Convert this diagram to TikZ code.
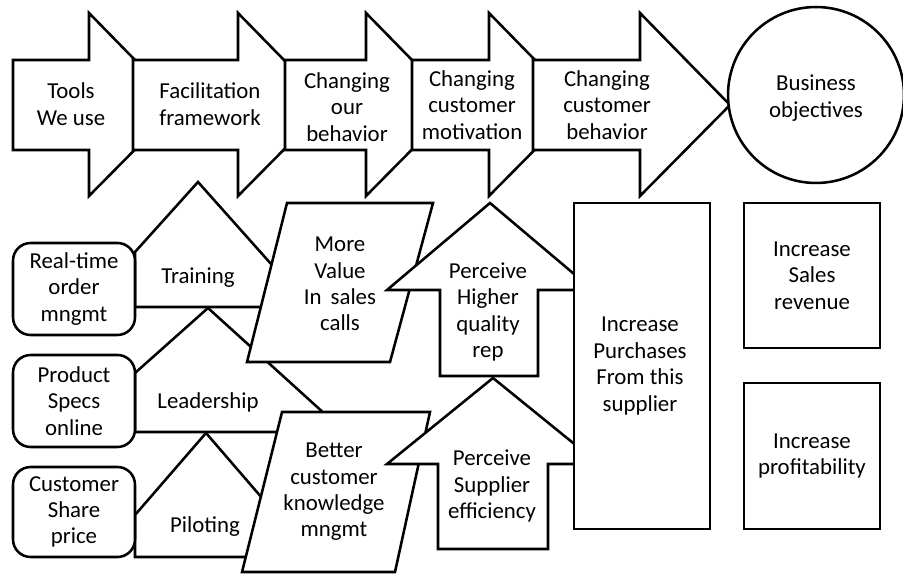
\documentclass[tikz,border=0pt]{standalone}
\usepackage{fontspec}
\setmainfont{Carlito}
\usepackage{tikz}

\begin{document}
\begin{tikzpicture}[x=0.02cm,y=-0.02cm,line join=miter,
  box/.style={draw=black,fill=white,line width=1.45pt},
  txt/.style={align=center,inner sep=0pt,font=\fontsize{13}{15}\selectfont}]
\fill[white] (0,0) rectangle (903,574);
\useasboundingbox (0,0) rectangle (903,574);
% top row of arrows
\foreach \xs/\xh/\xt/\yt/\nm/\lab in {13/89/71/104/tools/{Tools\\We use},133/238/210/104/facil/{Facilitation\\framework},285/366/347/107/ourbeh/{Changing\\our\\behavior},412/489/472/105/custmot/{Changing\\customer\\motivation},533/640/607/105/custbeh/{Changing\\customer\\behavior}}
{
\draw[box] (\xs,60) -- (\xh,60) -- (\xh,13) -- (\xh+90,105) -- (\xh,196) -- (\xh,150) -- (\xs,150) -- cycle;
\node[txt] (\nm) at (\xt,\yt) {\lab};
}
\node[box,circle,txt,minimum size=3.52cm] (objectives) at (816,95) {};
\node[txt] (objtext) at (816,98) {Business\\objectives};
% triangles behind the boxes
\draw[box] (135,307) -- (135,252) -- (198,182) -- (280,274) -- (280,307) -- cycle;
\draw[box] (135,432) -- (135,373) -- (208,308) -- (326,415) -- (326,432) -- cycle;
\draw[box] (135,557) -- (135,515) -- (206,433) -- (275,513) -- (275,557) -- cycle;
\node[txt] (training) at (198,278) {Training};
\node[txt] (leadership) at (208,402) {Leadership};
\node[txt] (piloting) at (205,527) {Piloting};
% tools
\node[box,txt,rounded corners=10pt,minimum width=2.44cm,minimum height=1.84cm] (realtime) at (74,289) {Real-time\\order\\mngmt};
\node[box,txt,rounded corners=10pt,minimum width=2.44cm,minimum height=1.84cm] (specs) at (74,401) {Product\\Specs\\online};
\node[box,txt,rounded corners=10pt,minimum width=2.44cm,minimum height=1.8cm] (share) at (74,512) {Customer\\Share\\price};
% parallelograms
\draw[box] (287,203) -- (433,203) -- (390,362) -- (247,362) -- cycle;
\node[txt] (morevalue) at (340,284) {More\\Value\\In\ \,sales\\calls};
\draw[box] (282,412) -- (430,412) -- (395,572) -- (242,572) -- cycle;
\node[txt] (knowledge) at (334,492) {Better\\customer\\knowledge\\mngmt};
% up arrows
\draw[box] (490,203) -- (593,290) -- (538,290) -- (538,376) -- (440,376) -- (440,290) -- (387,290) -- cycle;
\node[txt] (quality) at (488,312) {Perceive\\Higher\\quality\\rep};
\draw[box] (493,378) -- (599,464) -- (548,464) -- (548,549) -- (438,549) -- (438,464) -- (387,464) -- cycle;
\node[txt] (efficiency) at (492,486) {Perceive\\Supplier\\efficiency};
% objectives boxes
\node[box,txt,minimum width=2.72cm,minimum height=6.52cm] (purchases) at (642,366) {};
\node[txt] (purchtext) at (640,366) {Increase\\Purchases\\From this\\supplier};
\node[box,txt,minimum width=2.72cm,minimum height=2.9cm] (revenue) at (812,275.5) {Increase\\Sales\\revenue};
\node[box,txt,minimum width=2.72cm,minimum height=2.92cm] (profit) at (812,456) {Increase\\profitability};
\end{tikzpicture}
\end{document}
